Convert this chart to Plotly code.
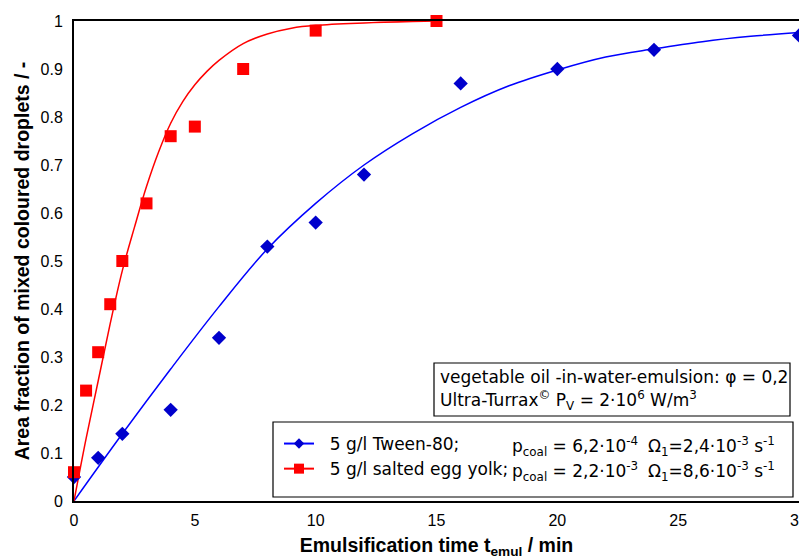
import plotly.graph_objects as go

# ---- data ----
tween_t = [0, 1, 2, 4, 6, 8, 10, 12, 16, 20, 24, 30]
tween_y = [0.05, 0.09, 0.14, 0.19, 0.34, 0.53, 0.58, 0.68, 0.87, 0.90, 0.94, 0.97]

egg_t = [0, 0.5, 1, 1.5, 2, 3, 4, 5, 7, 10, 15]
egg_y = [0.06, 0.23, 0.31, 0.41, 0.50, 0.62, 0.76, 0.78, 0.90, 0.98, 1.00]

tween_fit_t = [0, 2, 4, 6, 8, 10, 12, 14, 16, 18, 20, 22, 24, 26, 28, 30]
tween_fit_y = [0, 0.14, 0.275, 0.405, 0.525, 0.62, 0.70, 0.765, 0.82, 0.865, 0.898, 0.925, 0.942, 0.957, 0.968, 0.976]

egg_fit_t = [0, 0.5, 1, 1.5, 2, 2.5, 3, 3.5, 4, 4.5, 5, 5.5, 6, 7, 8, 9, 10, 12, 14, 15]
egg_fit_y = [0, 0.13, 0.25, 0.37, 0.48, 0.57, 0.655, 0.727, 0.787, 0.832, 0.867, 0.895, 0.918, 0.953, 0.973, 0.985, 0.991, 0.996, 0.999, 1.0]

x_ticks = [0, 5, 10, 15, 20, 25, 30]
y_ticks = [0, 0.1, 0.2, 0.3, 0.4, 0.5, 0.6, 0.7, 0.8, 0.9, 1]
y_tick_text = ["0", "0.1", "0.2", "0.3", "0.4", "0.5", "0.6", "0.7", "0.8", "0.9", "1"]

BLUE_M = "#0000CC"
BLUE_L = "#0000FF"
RED = "#FF0000"
FONT = "Liberation Sans, Arial, sans-serif"
WIDE = "DejaVu Sans, Liberation Sans, sans-serif"

# the page body has an 8px margin: figure sits at (8, 8) in the window
OFF = 8
W, H = 807 - OFF, 559 - OFF
# plot area in window pixels: x 74..799, y 21..501
ML = 74 - OFF
MT = 21 - OFF
MR = W - (799 - OFF)
MB = H - (501 - OFF)
PW, PH = W - ML - MR, H - MT - MB


def px(x):
    """window pixel x -> paper fraction"""
    return (x - OFF - ML) / PW


def py(y):
    """window pixel y -> paper fraction"""
    return (H - MB - (y - OFF)) / PH


fig = go.Figure()

fig.add_trace(go.Scatter(x=tween_fit_t, y=tween_fit_y, mode="lines",
                         line=dict(color=BLUE_L, width=1.5, shape="spline"),
                         showlegend=False, hoverinfo="skip"))
fig.add_trace(go.Scatter(x=egg_fit_t, y=egg_fit_y, mode="lines",
                         line=dict(color=RED, width=1.5, shape="spline"),
                         showlegend=False, hoverinfo="skip"))
fig.add_trace(go.Scatter(x=tween_t, y=tween_y, mode="markers",
                         marker=dict(symbol="diamond", size=11, color=BLUE_M),
                         showlegend=False, cliponaxis=False))
fig.add_trace(go.Scatter(x=egg_t, y=egg_y, mode="markers",
                         marker=dict(symbol="square", size=12, color=RED),
                         showlegend=False, cliponaxis=False))

# legend entries
fig.add_trace(go.Scatter(x=[None], y=[None], mode="lines+markers",
                         name="\u00a0\u00a05 g/l Tween-80;",
                         line=dict(color=BLUE_L, width=2),
                         marker=dict(symbol="diamond", size=8, color=BLUE_M)))
fig.add_trace(go.Scatter(x=[None], y=[None], mode="lines+markers",
                         name="\u00a0\u00a05 g/l salted egg yolk;",
                         line=dict(color=RED, width=2),
                         marker=dict(symbol="square", size=10, color=RED)))

shapes = [
    # legend frame
    dict(type="rect", xref="paper", yref="paper",
         x0=px(273), x1=px(793), y0=py(497), y1=py(422),
         line=dict(color="black", width=1.2), fillcolor="white", layer="below"),
    # info box frame
    dict(type="rect", xref="paper", yref="paper",
         x0=px(434), x1=px(790), y0=py(416), y1=py(363),
         line=dict(color="black", width=1.2), fillcolor="white", layer="below"),
]

ann_font = dict(size=17, color="black", family=WIDE)
annotations = [
    dict(text="vegetable oil -in-water-emulsion: \u03c6 = 0,2",
         x=px(438), y=py(377), xref="paper", yref="paper",
         xanchor="left", yanchor="middle", showarrow=False, font=ann_font),
    dict(text="Ultra-Turrax<sup>\u00a9</sup> P<sub>V</sub> = 2\u00b710<sup>6</sup> W/m<sup>3</sup>",
         x=px(438), y=py(400), xref="paper", yref="paper",
         xanchor="left", yanchor="middle", showarrow=False, font=ann_font),
    dict(text="p<sub>coal</sub> = 6,2\u00b710<sup>-4</sup>",
         x=px(510), y=py(446), xref="paper", yref="paper",
         xanchor="left", yanchor="middle", showarrow=False, font=ann_font),
    dict(text="\u03a9<sub>1</sub>=2,4\u00b710<sup>-3</sup> s<sup>-1</sup>",
         x=px(646), y=py(446), xref="paper", yref="paper",
         xanchor="left", yanchor="middle", showarrow=False, font=ann_font),
    dict(text="p<sub>coal</sub> = 2,2\u00b710<sup>-3</sup>",
         x=px(510), y=py(471), xref="paper", yref="paper",
         xanchor="left", yanchor="middle", showarrow=False, font=ann_font),
    dict(text="\u03a9<sub>1</sub>=8,6\u00b710<sup>-3</sup> s<sup>-1</sup>",
         x=px(646), y=py(471), xref="paper", yref="paper",
         xanchor="left", yanchor="middle", showarrow=False, font=ann_font),
]

fig.update_layout(
    width=W, height=H,
    margin=dict(l=ML, r=MR, t=MT, b=MB, pad=0),
    paper_bgcolor="white", plot_bgcolor="white",
    font=dict(family=FONT, size=16, color="black"),
    showlegend=True,
    legend=dict(x=px(279), y=py(426), xanchor="left", yanchor="top",
                bgcolor="rgba(0,0,0,0)", borderwidth=0,
                font=dict(size=17, family=WIDE, color="black"),
                itemwidth=30),
    shapes=shapes,
    annotations=annotations,
    xaxis=dict(range=[0, 30], tickvals=x_ticks, showgrid=False, zeroline=False,
               showline=True, mirror=True, linecolor="black", linewidth=2,
               ticks="", tickfont=dict(size=16), ticklabelstandoff=4,
               ticklabeloverflow="allow",
               automargin=False,
               title=dict(text="<b>Emulsification time t<sub>emul</sub> / min</b>",
                          font=dict(size=19.5, family=FONT), standoff=11)),
    yaxis=dict(range=[0, 1], tickvals=y_ticks, ticktext=y_tick_text,
               showgrid=False, zeroline=False,
               showline=True, mirror=True, linecolor="black", linewidth=2,
               ticks="", tickfont=dict(size=16), ticklabelstandoff=6,
               ticklabeloverflow="allow",
               automargin=False,
               title=dict(text="<b>Area fraction of mixed coloured droplets / -</b>",
                          font=dict(size=19.5, family=FONT), standoff=6)),
)

fig.write_html("out.html")
